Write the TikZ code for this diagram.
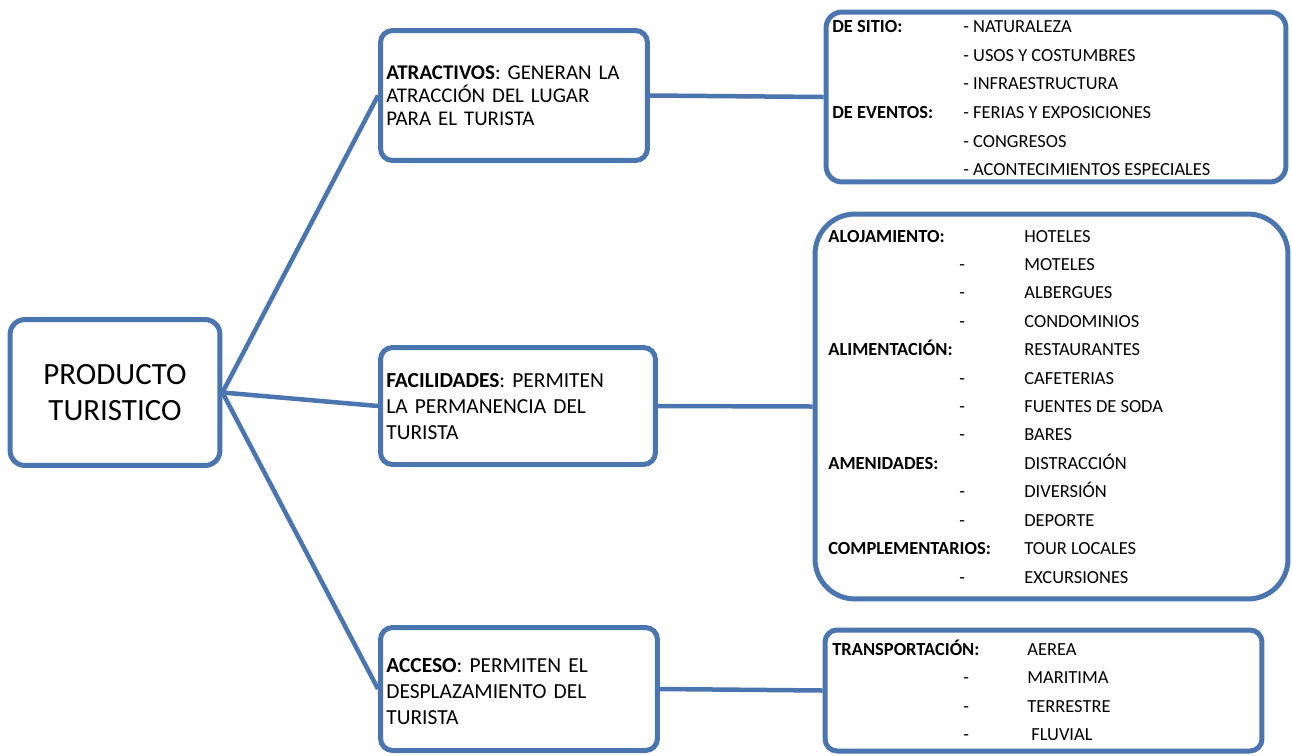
\documentclass[tikz,border=0pt]{standalone}
\usepackage{fontspec}
\setmainfont{Carlito}
\usetikzlibrary{positioning}

\definecolor{boxblue}{RGB}{74,117,174}

\tikzset{
  box/.style={draw=boxblue, line width=0.1cm, rounded corners=0.24cm, inner sep=0pt},
  link/.style={draw=boxblue, line width=0.09cm},
  midtxt/.style={anchor=base west, inner sep=0pt, align=left, text width=5.3cm},
  rowtxt/.style={anchor=base west, inner sep=0pt, font=\fontsize{10.5}{12}\selectfont},
  rowlab/.style={rowtxt, font=\fontsize{10.5}{12}\selectfont\bfseries}
}

\begin{document}
\begin{tikzpicture}[x=0.02cm, y=-0.02cm]
    \useasboundingbox (0,0) rectangle (1292,755);

    % Main box
    \node [box, rounded corners=0.3cm, minimum width=4.2cm, minimum height=2.92cm, align=center,
           font=\fontsize{17.6}{20}\selectfont] (prod) at (115,392.5) {PRODUCTO\\TURISTICO};

    % Middle boxes
    \node [box, minimum width=5.34cm, minimum height=2.6cm] (atrac) at (514,95.5) {};
    \node [box, minimum width=5.5cm, minimum height=2.34cm] (facil) at (518,406) {};
    \node [box, minimum width=5.54cm, minimum height=2.46cm] (acces) at (519,689) {};

    \node [midtxt, font=\fontsize{11.9}{13.3}\selectfont] (atractxt) at (386,79)
        {\textbf{ATRACTIVOS}: GENERAN LA\\ATRACCIÓN DEL LUGAR\\PARA EL TURISTA};
    \node [midtxt, font=\fontsize{12.2}{14.9}\selectfont] (faciltxt) at (386,387)
        {\textbf{FACILIDADES}: PERMITEN\\LA PERMANENCIA DEL\\TURISTA};
    \node [midtxt, font=\fontsize{12.2}{15}\selectfont] (accestxt) at (386,672)
        {\textbf{ACCESO}: PERMITEN EL\\DESPLAZAMIENTO DEL\\TURISTA};

    % Right boxes
    \node [box, rounded corners=0.32cm, minimum width=9.2cm, minimum height=3.4cm] (sitio) at (1056,97) {};
    \node [box, rounded corners=0.8cm, minimum width=9.46cm, minimum height=7.7cm] (aloja) at (1051.5,406.5) {};
    \node [box, minimum width=8.74cm, minimum height=2.42cm] (trans) at (1043.5,690.5) {};

    % Connectors
    \draw [link] (prod.east) -- (atrac.west);
    \draw [link] (prod.east) -- (facil.west);
    \draw [link] (prod.east) -- (acces.west);
    \draw [link] (atrac.east) -- (sitio.west);
    \draw [link] (facil.east) -- (aloja.west);
    \draw [link] (acces.east) -- (trans.west);

    % Atractivos list
    \node [rowlab] (sitio-l0) at (832,32) {DE SITIO:};
    \node [rowlab] (sitio-l3) at (832,118) {DE EVENTOS:};
    \foreach \word/\yy [count=\i] in {NATURALEZA/32, USOS Y COSTUMBRES/61, INFRAESTRUCTURA/89,
        FERIAS Y EXPOSICIONES/118, CONGRESOS/147, ACONTECIMIENTOS ESPECIALES/175}
        \node [rowtxt] (sitio-i\i) at (963,\yy) {- \word};

    % Facilidades list
    \foreach \word [count=\i from 0] in {HOTELES, MOTELES, ALBERGUES, CONDOMINIOS, RESTAURANTES,
        CAFETERIAS, FUENTES DE SODA, BARES, DISTRACCIÓN, DIVERSIÓN, DEPORTE, TOUR LOCALES, EXCURSIONES}
        \node [rowtxt] (aloja-i\i) at (1024,{242+28.42*\i}) {\word};
    \foreach \i in {1,2,3,5,6,7,9,10,12}
        \node [rowtxt] (aloja-d\i) at (959,{242+28.42*\i}) {-};
    \foreach \i/\lab in {0/ALOJAMIENTO:, 4/ALIMENTACIÓN:, 8/AMENIDADES:, 11/COMPLEMENTARIOS:}
        \node [rowlab] (aloja-l\i) at (828,{242+28.42*\i}) {\lab};

    % Acceso list
    \node [rowlab] (trans-l0) at (832,655) {TRANSPORTACIÓN:};
    \node [rowtxt] (trans-i0) at (1027,655) {AEREA};
    \node [rowtxt] (trans-i1) at (1027,683.5) {MARITIMA};
    \node [rowtxt] (trans-i2) at (1027,712) {TERRESTRE};
    \node [rowtxt] (trans-i3) at (1031,740) {FLUVIAL};
    \foreach \i/\yy in {1/683.5, 2/712, 3/740}
        \node [rowtxt] (trans-d\i) at (963,\yy) {-};
\end{tikzpicture}
\end{document}
